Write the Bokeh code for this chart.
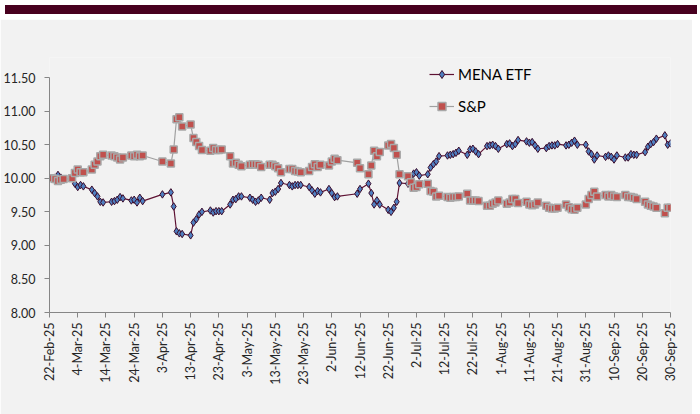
import pandas as pd
from bokeh.plotting import figure
from bokeh.models import Range1d, FixedTicker, NumeralTickFormatter, Div
from bokeh.layouts import column
from bokeh.embed import file_html
from bokeh.resources import INLINE

# ---------------- data ----------------
dates = [
    "2025-02-23", "2025-02-24", "2025-02-25", "2025-02-26", "2025-02-27",
    "2025-03-02", "2025-03-03", "2025-03-04", "2025-03-05", "2025-03-06",
    "2025-03-09", "2025-03-10", "2025-03-11", "2025-03-12", "2025-03-13",
    "2025-03-16", "2025-03-17", "2025-03-18", "2025-03-19", "2025-03-20",
    "2025-03-23", "2025-03-24", "2025-03-25", "2025-03-26", "2025-03-27",
    "2025-04-03",
    "2025-04-06", "2025-04-07", "2025-04-08", "2025-04-09", "2025-04-10",
    "2025-04-13", "2025-04-14", "2025-04-15", "2025-04-16", "2025-04-17",
    "2025-04-20", "2025-04-21", "2025-04-22", "2025-04-23", "2025-04-24",
    "2025-04-27", "2025-04-28", "2025-04-29", "2025-04-30", "2025-05-01",
    "2025-05-04", "2025-05-05", "2025-05-06", "2025-05-07", "2025-05-08",
    "2025-05-11", "2025-05-12", "2025-05-13", "2025-05-14", "2025-05-15",
    "2025-05-18", "2025-05-19", "2025-05-20", "2025-05-21", "2025-05-22",
    "2025-05-25", "2025-05-26", "2025-05-27", "2025-05-28", "2025-05-29",
    "2025-06-01", "2025-06-02", "2025-06-03", "2025-06-04",
    "2025-06-11", "2025-06-12",
    "2025-06-15", "2025-06-16", "2025-06-17", "2025-06-18", "2025-06-19",
    "2025-06-22", "2025-06-23", "2025-06-24", "2025-06-25", "2025-06-26",
    "2025-06-29", "2025-06-30", "2025-07-01", "2025-07-02", "2025-07-03",
    "2025-07-06", "2025-07-07", "2025-07-08", "2025-07-09", "2025-07-10",
    "2025-07-13", "2025-07-14", "2025-07-15", "2025-07-16", "2025-07-17",
    "2025-07-20", "2025-07-21", "2025-07-22", "2025-07-23", "2025-07-24",
    "2025-07-27", "2025-07-28", "2025-07-29", "2025-07-30", "2025-07-31",
    "2025-08-03", "2025-08-04", "2025-08-05", "2025-08-06", "2025-08-07",
    "2025-08-10", "2025-08-11", "2025-08-12", "2025-08-13", "2025-08-14",
    "2025-08-17", "2025-08-18", "2025-08-19", "2025-08-20", "2025-08-21",
    "2025-08-24", "2025-08-25", "2025-08-26", "2025-08-27", "2025-08-28",
    "2025-08-31", "2025-09-01", "2025-09-02", "2025-09-03", "2025-09-04",
    "2025-09-07", "2025-09-08", "2025-09-09", "2025-09-10", "2025-09-11",
    "2025-09-14", "2025-09-15", "2025-09-16", "2025-09-17", "2025-09-18",
    "2025-09-21", "2025-09-22", "2025-09-23", "2025-09-24", "2025-09-25",
    "2025-09-28", "2025-09-29", "2025-09-30",
]

mena_etf = [
    10.00, 10.01, 10.05, 10.01, 9.99,
    10.00, 9.92, 9.87, 9.90, 9.88,
    9.83, 9.78, 9.73, 9.65, 9.64,
    9.65, 9.66, 9.68, 9.72, 9.70,
    9.67, 9.68, 9.64, 9.71, 9.66,
    9.76,
    9.79, 9.58, 9.21, 9.18, 9.17,
    9.15, 9.34, 9.39, 9.46, 9.50,
    9.52, 9.49, 9.51, 9.51, 9.51,
    9.61, 9.68, 9.69, 9.73, 9.73,
    9.71, 9.68, 9.65, 9.67, 9.71,
    9.68, 9.78, 9.80, 9.84, 9.93,
    9.90, 9.88, 9.90, 9.90, 9.90,
    9.87, 9.82, 9.77, 9.81, 9.79,
    9.84, 9.78, 9.72, 9.73,
    9.77, 9.84,
    9.92, 9.78, 9.61, 9.67, 9.61,
    9.53, 9.50, 9.56, 9.65, 9.93,
    9.92, 10.00, 10.07, 10.09, 10.04,
    10.06, 10.16, 10.21, 10.25, 10.33,
    10.34, 10.35, 10.36, 10.38, 10.41,
    10.35, 10.43, 10.44, 10.40, 10.36,
    10.48, 10.49, 10.50, 10.48, 10.44,
    10.51, 10.52, 10.48, 10.51, 10.57,
    10.55, 10.53, 10.54, 10.49, 10.44,
    10.45, 10.48, 10.49, 10.49, 10.51,
    10.49, 10.50, 10.53, 10.56, 10.50,
    10.50, 10.40, 10.36, 10.28, 10.34,
    10.32, 10.34, 10.32, 10.28, 10.34,
    10.31, 10.31, 10.36, 10.35, 10.35,
    10.39, 10.47, 10.51, 10.54, 10.59,
    10.64, 10.50, 10.52,
]

sp = [
    10.00, 9.99, 9.96, 9.98, 9.99,
    10.00, 10.08, 10.13, 10.09, 10.09,
    10.13, 10.20, 10.25, 10.33, 10.35,
    10.34, 10.33, 10.31, 10.28, 10.31,
    10.34, 10.33, 10.35, 10.33, 10.34,
    10.25,
    10.22, 10.43, 10.88, 10.91, 10.77,
    10.80, 10.60, 10.54, 10.48, 10.42,
    10.41, 10.45, 10.42, 10.42, 10.43,
    10.33, 10.22, 10.23, 10.20, 10.18,
    10.20, 10.21, 10.21, 10.20, 10.17,
    10.20, 10.20, 10.18, 10.15, 10.09,
    10.14, 10.14, 10.11, 10.10, 10.09,
    10.11, 10.17, 10.21, 10.17, 10.20,
    10.19, 10.25, 10.29, 10.27,
    10.23, 10.15,
    10.06, 10.19, 10.41, 10.33, 10.39,
    10.49, 10.51, 10.45, 10.35, 10.06,
    10.03, 9.94, 9.86, 9.87, 9.91,
    9.92, 9.81, 9.80, 9.73, 9.74,
    9.72, 9.71, 9.72, 9.72, 9.73,
    9.77, 9.67, 9.67, 9.67, 9.66,
    9.59, 9.59, 9.62, 9.64, 9.67,
    9.62, 9.64, 9.69, 9.69, 9.63,
    9.65, 9.61, 9.60, 9.61, 9.64,
    9.59, 9.56, 9.55, 9.55, 9.56,
    9.61, 9.57, 9.54, 9.53, 9.56,
    9.61, 9.69, 9.75, 9.80, 9.73,
    9.75, 9.73, 9.75, 9.73, 9.72,
    9.75, 9.72, 9.72, 9.71, 9.69,
    9.65, 9.61, 9.59, 9.58, 9.56,
    9.48, 9.56, 9.56,
]

tick_labels = [
    "22-Feb-25", "4-Mar-25", "14-Mar-25", "24-Mar-25", "3-Apr-25", "13-Apr-25",
    "23-Apr-25", "3-May-25", "13-May-25", "23-May-25", "2-Jun-25", "12-Jun-25",
    "22-Jun-25", "2-Jul-25", "12-Jul-25", "22-Jul-25", "1-Aug-25", "11-Aug-25",
    "21-Aug-25", "31-Aug-25", "10-Sep-25", "20-Sep-25", "30-Sep-25",
]
y_ticks = [8.0, 8.5, 9.0, 9.5, 10.0, 10.5, 11.0, 11.5]

# ---------------- build ----------------
start = pd.Timestamp("2025-02-22")
x = list((pd.to_datetime(dates) - start).days)
tick_days = list((pd.to_datetime(tick_labels, format="%d-%b-%y") - start).days)

FONT = "Lato"
BG = "#F2F2F2"
TXT = "#262626"
AX = "#868686"

# frame extends a little above 11.50 so the legend (which sits above the
# axis top, as in the reference) is not clipped; the axis itself stops at 11.50
p = figure(
    width=692, height=397,
    x_range=Range1d(tick_days[0], tick_days[-1]),
    y_range=Range1d(y_ticks[0], 11.8),
    output_backend="svg", toolbar_location=None,
    min_border_left=49, min_border_right=22, min_border_top=38, min_border_bottom=104,
    background_fill_color=BG, border_fill_color=BG, outline_line_color=None,
)
p.xgrid.visible = False
p.ygrid.visible = False

p.line(x, mena_etf, color="#5E1233", line_width=1.2, legend_label="MENA ETF")
p.scatter(x, mena_etf, marker="diamond", size=7.5, fill_color="#4F7FC0",
          line_color="#3A0B2B", line_width=1, legend_label="MENA ETF")
p.line(x, sp, color="#A0A0A0", line_width=1.2, legend_label="S&P")
p.scatter(x, sp, marker="square", size=7, fill_color="#C0504D",
          line_color="#A8A8A8", line_width=1.5, legend_label="S&P")

xa = p.xaxis[0]
xa.ticker = FixedTicker(ticks=tick_days)
xa.major_label_overrides = {d: lab for d, lab in zip(tick_days, tick_labels)}
xa.major_label_orientation = 3.14159265 / 2
xa.minor_tick_line_color = None
xa.major_tick_in = 0
xa.major_tick_out = 5
xa.major_label_standoff = 5
xa.axis_line_color = AX
xa.major_tick_line_color = AX
xa.major_label_text_font = FONT
xa.major_label_text_font_size = "12.5px"
xa.major_label_text_color = TXT

ya = p.yaxis[0]
ya.ticker = FixedTicker(ticks=y_ticks)
ya.bounds = (y_ticks[0], y_ticks[-1])
ya.formatter = NumeralTickFormatter(format="0.00")
ya.minor_tick_line_color = None
ya.major_tick_in = 0
ya.major_tick_out = 5
ya.major_label_standoff = 9
ya.axis_line_color = AX
ya.major_tick_line_color = AX
ya.major_label_text_font = FONT
ya.major_label_text_font_size = "12.5px"
ya.major_label_text_color = TXT

leg = p.legend[0]
leg.location = (380, 196)
leg.margin = 0
leg.padding = 0
leg.spacing = 12
leg.glyph_width = 25
leg.glyph_height = 20
leg.label_height = 20
leg.label_standoff = 4
leg.border_line_color = None
leg.background_fill_alpha = 0
leg.label_text_font = FONT
leg.label_text_font_size = "15px"
leg.label_text_color = "#000000"

bar = Div(text="", width=692, height=9, styles={"background-color": "#48001F"})
layout = column(bar, p, spacing=0)

open("out.html", "w").write(file_html(layout, INLINE))
